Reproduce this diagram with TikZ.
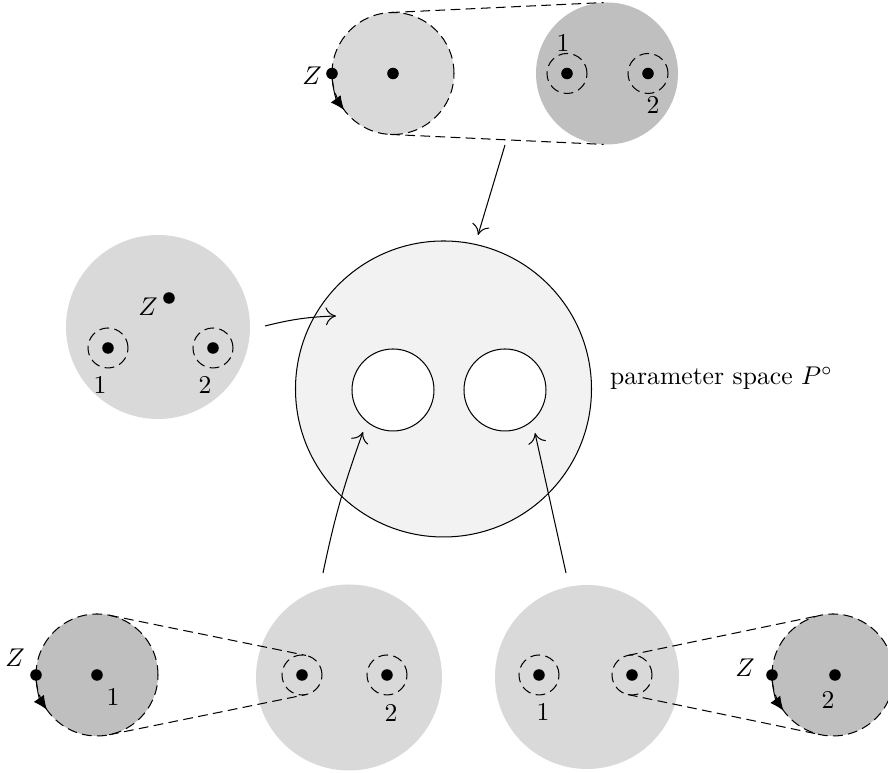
\documentclass[tikz,border=0pt]{standalone}
\usetikzlibrary{calc,arrows.meta}
\begin{document}
\begin{tikzpicture}[x=0.39pt,y=0.39pt,
  lightdisk/.style={fill=gray!30},
  darkdisk/.style={fill=gray!50},
  dashline/.style={dash pattern=on 3.8pt off 2.1pt},
  dot/.style={circle,fill=black,inner sep=0pt,minimum size=4.5pt},
  conn/.style={-{To[length=4pt,width=7pt]}},
  zarrow/.style={-{Latex[length=5.5pt,width=4.8pt]}},
  lab/.style={inner sep=0pt}]
\useasboundingbox (0,0) rectangle (888,773);
% centres
\coordinate (M) at (443.5,384);
\coordinate (H1) at (393,383);
\coordinate (H2) at (505,383);
\coordinate (TL) at (393,699.5);
\coordinate (TR) at (607,699.5);
\coordinate (L) at (158,446);
\coordinate (BM) at (349,95.5);
\coordinate (BR) at (587,96);
\coordinate (BLs) at (97,98);
\coordinate (BRs) at (833,98);
\coordinate (t1c) at (567,699.5);
\coordinate (t2c) at (648,699.5);
\coordinate (l1c) at (108,425);
\coordinate (l2c) at (213,425);
\coordinate (bm1c) at (302,98);
\coordinate (bm2c) at (387,98);
\coordinate (br1c) at (539,98);
\coordinate (br2c) at (632,98);

% main parameter space
\draw[fill=gray!10] (M) circle[radius=148];
\draw[fill=white] (H1) circle[radius=41];
\draw[fill=white] (H2) circle[radius=41];
\node[anchor=west] (plabel) at (601,395) {parameter space $P^\circ$};

% top group
\fill[lightdisk] (TL) circle[radius=61];
\fill[darkdisk] (TR) circle[radius=71];
\draw[dashline] (TL) circle[radius=61];
\draw[dashline] ($(TL)+(92.68:61)$) -- ($(TR)+(92.68:71)$);
\draw[dashline] ($(TL)+(-92.68:61)$) -- ($(TR)+(-92.68:71)$);
\draw[dashline] (t1c) circle[radius=20];
\draw[dashline] (t2c) circle[radius=20];
\draw[zarrow] ($(TL)+(180:61)$) arc[start angle=180,end angle=217,radius=61];
\node[dot] (tz) at ($(TL)+(180:61)$) {};
\node[dot] (t0) at (TL) {};
\node[dot] (t1) at (t1c) {};
\node[dot] (t2) at (t2c) {};
\node (tzl) at (312,697) {$Z$};
\node (t1l) at (563,730) {1};
\node (t2l) at (653,668) {2};

% left disk
\fill[lightdisk] (L) circle[radius=92];
\draw[dashline] (l1c) circle[radius=20];
\draw[dashline] (l2c) circle[radius=20];
\node[dot] (l1) at (l1c) {};
\node[dot] (l2) at (l2c) {};
\node[dot] (lz) at (169,475) {};
\node (lzl) at (148,466) {$Z$};
\node (l1l) at (100,388) {1};
\node (l2l) at (205,388) {2};

% bottom middle & right disks
\fill[lightdisk] (BM) circle[radius=93];
\fill[lightdisk] (BR) circle[radius=92];
\fill[darkdisk] (BLs) circle[radius=61];
\fill[darkdisk] (BRs) circle[radius=61];
\draw[dashline] (BLs) circle[radius=61];
\draw[dashline] (BRs) circle[radius=61];
\draw[dashline] (bm1c) circle[radius=20];
\draw[dashline] (bm2c) circle[radius=20];
\draw[dashline] (br1c) circle[radius=20];
\draw[dashline] (br2c) circle[radius=20];
\draw[dashline] ($(BLs)+(78.46:61)$) -- ($(bm1c)+(78.46:20)$);
\draw[dashline] ($(BLs)+(-78.46:61)$) -- ($(bm1c)+(-78.46:20)$);
\draw[dashline] ($(br2c)+(101.77:20)$) -- ($(BRs)+(101.77:61)$);
\draw[dashline] ($(br2c)+(-101.77:20)$) -- ($(BRs)+(-101.77:61)$);
\draw[zarrow] ($(BLs)+(180:61)$) arc[start angle=180,end angle=215,radius=61];
\draw[zarrow] ($(BRs)+(180:61)$) arc[start angle=180,end angle=216,radius=61];
\node[dot] (bm1) at (bm1c) {};
\node[dot] (bm2) at (bm2c) {};
\node[dot] (br1) at (br1c) {};
\node[dot] (br2) at (br2c) {};
\node[dot] (bl0) at (BLs) {};
\node[dot] (blz) at ($(BLs)+(180:61)$) {};
\node[dot] (brs0) at (835,98) {};
\node[dot] (brz) at ($(BRs)+(180:61)$) {};
\node (bm2l) at (391,60) {2};
\node (br1l) at (543,61) {1};
\node (bl1l) at (113,76) {1};
\node (blzl) at (15,115) {$Z$};
\node (brzl) at (745,105) {$Z$};
\node (brs2l) at (828,73) {2};

% connectors
\coordinate (a1s) at (505,628); \coordinate (a1e) at (478,538);
\coordinate (a2s) at (265,447); \coordinate (a2e) at (336,457);
\coordinate (a3s) at (323,200); \coordinate (a3e) at (363,341);
\coordinate (a4s) at (566,200); \coordinate (a4e) at (535,340);
\draw[conn] (a1s) -- (a1e);
\draw[conn] (a2s) to[bend left=6] (a2e);
\draw[conn] (a3s) to[bend left=4] (a3e);
\draw[conn] (a4s) -- (a4e);
\end{tikzpicture}
\end{document}
